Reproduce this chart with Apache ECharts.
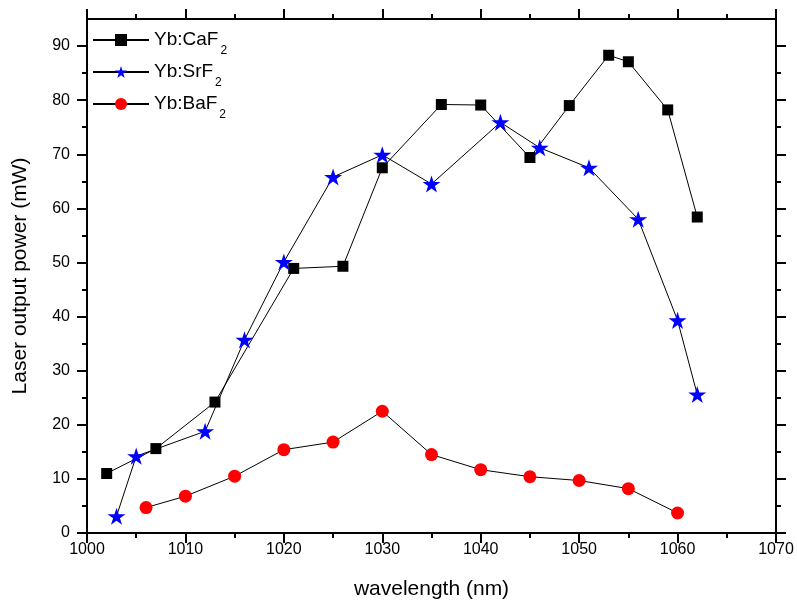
<!DOCTYPE html>
<html>
<head>
<meta charset="utf-8">
<script src="https://cdn.jsdelivr.net/npm/echarts@6/dist/echarts.min.js"></script>
<style>html,body{margin:0;padding:0;background:#fff;}#c{width:797px;height:607px;}</style>
</head>
<body>
<div id="c"></div>
<script>
// CaF2 (black squares)
const cafX = [1002, 1007, 1013, 1021, 1026, 1030, 1036, 1040, 1045, 1049, 1053, 1055, 1059, 1062];
const cafY = [11.0, 15.6, 24.2, 48.9, 49.3, 67.5, 79.2, 79.1, 69.4, 79.0, 88.3, 87.1, 78.2, 58.4];
// SrF2 (blue stars)
const srfX = [1003, 1005, 1012, 1016, 1020, 1025, 1030, 1035, 1042, 1046, 1051, 1056, 1060, 1062];
const srfY = [3.1, 14.2, 18.8, 35.7, 50.1, 65.8, 69.9, 64.5, 75.9, 71.2, 67.5, 58.0, 39.3, 25.6];
// BaF2 (red circles)
const bafX = [1006, 1010, 1015, 1020, 1025, 1030, 1035, 1040, 1045, 1050, 1055, 1060];
const bafY = [4.7, 6.8, 10.5, 15.4, 16.8, 22.5, 14.5, 11.7, 10.4, 9.7, 8.2, 3.7];

const seriesNames = ['Yb:CaF2', 'Yb:SrF2', 'Yb:BaF2'];
const legendMain = ['Yb:CaF', 'Yb:SrF', 'Yb:BaF'];
const yMajor = [0, 10, 20, 30, 40, 50, 60, 70, 80, 90];
const yMinor = [5, 15, 25, 35, 45, 55, 65, 75, 85];

const FONT = 'Liberation Sans, Arial, sans-serif';
const starPath = 'path://M50,0 L61.2,34.5 L97.6,34.5 L68.2,55.9 L79.4,90.5 L50,69.1 L20.6,90.5 L31.8,55.9 L2.4,34.5 L38.8,34.5 Z';

function pairs(xs, ys) { return xs.map((x, i) => [x, ys[i]]); }

const axisLine = { show: true, onZero: false, lineStyle: { color: '#000', width: 2 } };
const grid = { left: 87, right: 21, top: 19, bottom: 74 };

const xCommon = {
  type: 'value', min: 1000, max: 1070, interval: 10,
  axisLine: axisLine, splitLine: { show: false },
  axisTick: { show: true, inside: false, length: 10, lineStyle: { color: '#000', width: 2 } },
  minorTick: { show: true, splitNumber: 2, length: 5, lineStyle: { color: '#000', width: 2 } },
  minorSplitLine: { show: false }
};

function yAxisDef(pos, ticks, len, showLabel, showLine, extra) {
  return Object.assign({
    type: 'value', position: pos, min: 0, max: 95,
    axisLine: showLine ? axisLine : { show: false },
    splitLine: { show: false },
    axisTick: { show: true, inside: false, length: len, customValues: ticks, lineStyle: { color: '#000', width: 2 } },
    axisLabel: showLabel ? { show: true, customValues: ticks, color: '#000', fontSize: 16, fontFamily: FONT, margin: 17 } : { show: false }
  }, extra || {});
}

const rich = {
  a: { fontSize: 19, fontFamily: FONT, color: '#000', lineHeight: 20, padding: [7, 0, 7, 0] },
  s: { fontSize: 12, fontFamily: FONT, color: '#000', lineHeight: 12, padding: [22, 0, 0, 2] }
};

function legendDef(i, top) {
  return {
    data: [seriesNames[i]], left: 92, top: top, orient: 'vertical', padding: 0,
    itemWidth: 56, itemHeight: 15,
    formatter: () => '{a|' + legendMain[i] + '}{s|2}',
    textStyle: { fontSize: 19, fontFamily: FONT, color: '#000', rich: rich }
  };
}

const chart = echarts.init(document.getElementById('c'), null, { renderer: 'canvas' });
chart.setOption({
  backgroundColor: '#fff',
  animation: false,
  textStyle: { fontFamily: FONT },
  grid: grid,
  legend: [legendDef(0, 23), legendDef(1, 55), legendDef(2, 87)],
  xAxis: [
    Object.assign({}, xCommon, {
      position: 'bottom',
      axisLabel: { color: '#000', fontSize: 16, fontFamily: FONT, margin: 9, formatter: v => String(v) },
      name: 'wavelength (nm)', nameLocation: 'middle', nameGap: 46,
      nameTextStyle: { color: '#000', fontSize: 21, fontFamily: FONT }
    }),
    Object.assign({}, xCommon, { position: 'top', axisLabel: { show: false } })
  ],
  yAxis: [
    yAxisDef('left', yMajor, 10, true, true, {
      name: 'Laser output power (mW)', nameLocation: 'middle', nameGap: 56,
      nameTextStyle: { color: '#000', fontSize: 21, fontFamily: FONT }
    }),
    yAxisDef('left', yMinor, 5, false, false),
    yAxisDef('right', yMajor, 10, false, true),
    yAxisDef('right', yMinor, 5, false, false)
  ],
  series: [
    {
      name: seriesNames[0], type: 'line', data: pairs(cafX, cafY),
      symbol: 'rect', symbolSize: 11,
      itemStyle: { color: '#000' }, lineStyle: { color: '#000', width: 1 }, z: 3
    },
    {
      name: seriesNames[1], type: 'line', data: pairs(srfX, srfY),
      symbol: starPath, symbolSize: 18, symbolKeepAspect: true,
      itemStyle: { color: '#0000ff' }, lineStyle: { color: '#000', width: 1 }, z: 4
    },
    {
      name: seriesNames[2], type: 'line', data: pairs(bafX, bafY),
      symbol: 'circle', symbolSize: 13,
      itemStyle: { color: '#ff0000' }, lineStyle: { color: '#000', width: 1 }, z: 5
    }
  ]
});
</script>
</body>
</html>
